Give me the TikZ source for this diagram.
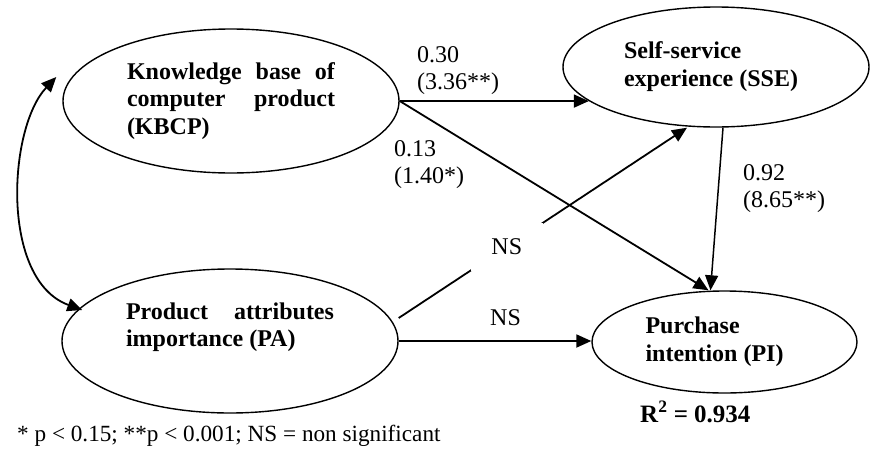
\documentclass[tikz,border=0pt]{standalone}
\usepackage{fontspec}
\setmainfont{Liberation Serif}
\usetikzlibrary{arrows.meta,shapes.geometric,calc}
\begin{document}
\begin{tikzpicture}[x=1pt,y=-1pt,
  ell/.style={draw, line width=1.4pt, ellipse, inner sep=0pt, font=\fontsize{24}{27.5}\selectfont\bfseries},
  tip/.style={Triangle[length=15pt,width=13pt]},
  conn/.style={line width=1.8pt, -{Triangle[length=15pt,width=13pt]}},
  lab/.style={anchor=base west, inner sep=0pt, font=\fontsize{24}{27.5}\selectfont},
  nsbox/.style={fill=white, inner sep=0pt, minimum width=72pt, minimum height=48pt, font=\fontsize{24}{27.5}\selectfont}]
\useasboundingbox (0,0) rectangle (870,461);
% constructs
\node[ell, minimum width=336pt, minimum height=144pt] (kbcp) at (231,101)
  {\begin{tabular}{@{}l@{}}\makebox[208pt][s]{Knowledge base of}\\ \makebox[208pt][s]{computer product}\\ (KBCP)\end{tabular}};
\node[ell, minimum width=306pt, minimum height=120pt] (sse) at (716,67)
  {\begin{tabular}{@{}l@{\hspace{10pt}}}Self-service\\ experience (SSE)\end{tabular}};
\node[ell, minimum width=336pt, minimum height=144pt] (pa) at (230,341)
  {\begin{tabular}{@{}l@{}}\makebox[208pt][s]{Product attributes}\\ importance (PA)\\ \mbox{}\end{tabular}};
\node[ell, minimum width=265pt, minimum height=102pt] (pi) at (724.5,342)
  {\begin{tabular}{@{}l@{\hspace{20pt}}}Purchase\\ intention (PI)\end{tabular}};
% paths
\draw[conn] (kbcp.east) -- (sse.195);
\draw[conn] (kbcp.east) -- ([xshift=-16pt]pi.north);
\draw[conn, line width=1.5pt] ([xshift=7pt]sse.south) -- ([xshift=-14pt]pi.north);
\draw[conn] ([yshift=23pt]pa.east) -- node[pos=0.375, nsbox] (ns1) {NS} ([xshift=-29pt]sse.south);
\draw[conn] (pa.east) -- (pa.east -| pi.west);
\draw[line width=1.8pt, {Triangle[length=15pt,width=13pt]}-{Triangle[length=15pt,width=13pt]}]
  ([xshift=-6pt,yshift=24pt]kbcp.west) .. controls (8,128) and (0,280) .. ([xshift=21pt,yshift=31pt]pa.west);
% labels
\node[lab] (l1) at (417,62) {\begin{tabular}[t]{@{}l@{}}0.30\\ (3.36**)\end{tabular}};
\node[lab] (l2) at (394,156) {\begin{tabular}[t]{@{}l@{}}0.13\\ (1.40*)\end{tabular}};
\node[lab] (l3) at (743,180) {\begin{tabular}[t]{@{}l@{}}0.92\\ (8.65**)\end{tabular}};
\node[lab] (ns2) at (490,325) {NS};
\node[lab, font=\fontsize{25}{30}\selectfont\bfseries] (r2) at (640,422) {R\textsuperscript{2} = 0.934};
\node[lab, font=\fontsize{23.2}{27}\selectfont] (note) at (17,441) {* p < 0.15; **p < 0.001; NS = non significant};
\end{tikzpicture}
\end{document}
